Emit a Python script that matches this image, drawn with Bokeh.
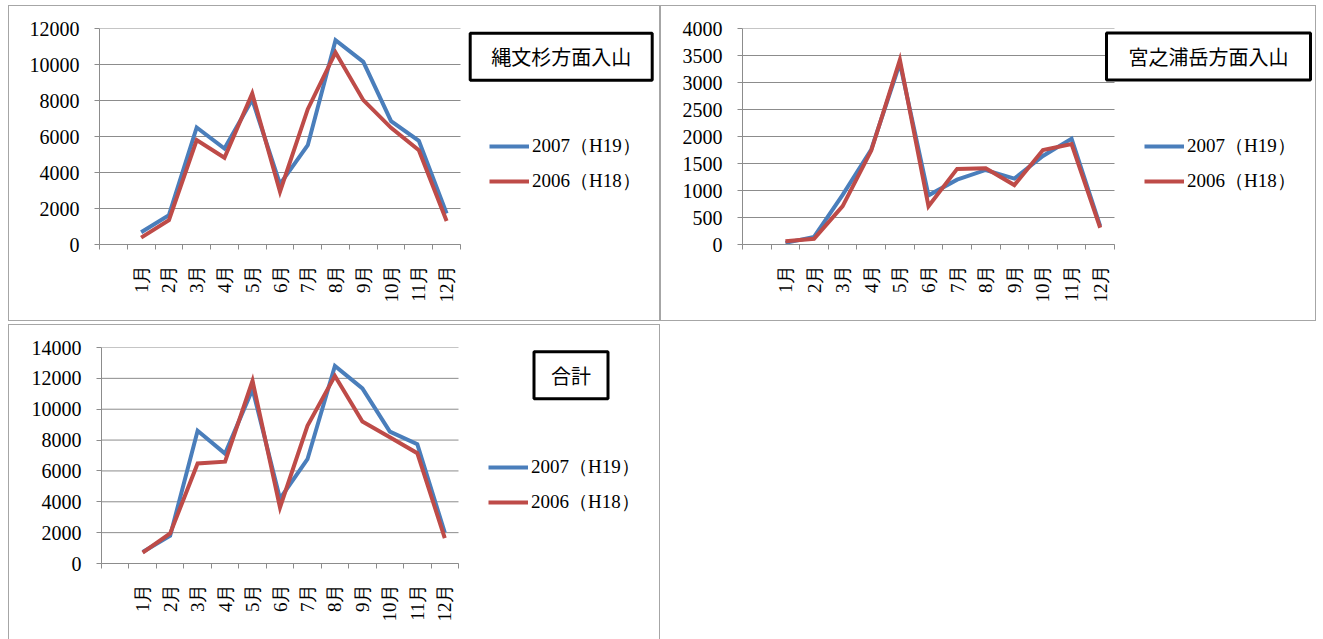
from bokeh.plotting import figure
from bokeh.models import Range1d, FixedTicker, Legend, LegendItem, Label
from bokeh.layouts import column, row
from bokeh.embed import file_html
from bokeh.resources import INLINE

# ---------------- data ----------------
categories = ["", "1月", "2月", "3月", "4月", "5月", "6月", "7月", "8月", "9月", "10月", "11月", "12月"]
months = categories[1:]
series_names = ["2007（H19）", "2006（H18）"]

jomon_title = "縄文杉方面入山"
jomon_2007 = [680, 1630, 6500, 5330, 8050, 3350, 5520, 11350, 10150, 6850, 5760, 1720]
jomon_2006 = [380, 1350, 5800, 4820, 8390, 2930, 7520, 10670, 8020, 6480, 5240, 1300]

miya_title = "宮之浦岳方面入山"
miya_2007 = [30, 140, 920, 1760, 3360, 910, 1200, 1380, 1220, 1640, 1960, 340]
miya_2006 = [60, 105, 710, 1740, 3420, 710, 1400, 1410, 1100, 1750, 1860, 310]

total_title = "合計"
total_2007 = [750, 1800, 8600, 7120, 11300, 4200, 6760, 12800, 11350, 8550, 7740, 2000]
total_2006 = [710, 1950, 6480, 6600, 11840, 3630, 8920, 12160, 9200, 8180, 7150, 1650]

BLUE = "#4a7ebb"
RED = "#be4b48"
GRID = "#8c8c8c"
SERIF = "Liberation Serif"
SANS = "Noto Sans CJK JP"


def make_panel(title, s_a, s_b, ymax, ystep, width, height,
               left, chart_w, top, bottom, title_off, title_pad, legend_off):
    n = len(categories)
    right = 2
    fw = width - left - right          # frame width (whole right side)
    fh = height - top - bottom
    x_end = n * fw / chart_w           # category area occupies chart_w pixels
    p = figure(width=width, height=height, output_backend="svg",
               toolbar_location=None,
               x_range=Range1d(0, x_end), y_range=Range1d(0, ymax),
               min_border_left=left, min_border_right=right,
               min_border_top=top, min_border_bottom=bottom,
               styles={"border": "1px solid #a6a6a6", "box-sizing": "border-box"})
    p.outline_line_color = None
    p.background_fill_color = "white"
    p.border_fill_color = "white"

    yticks = list(range(0, ymax + 1, ystep))
    # horizontal gridlines restricted to the category area
    p.segment(x0=[0] * len(yticks), x1=[n] * len(yticks), y0=yticks, y1=yticks,
              line_color=GRID, line_width=1)

    xs = [categories.index(m) + 0.5 for m in months]
    r_a = p.line(xs, s_a, line_color=BLUE, line_width=4, line_join="miter")
    r_b = p.line(xs, s_b, line_color=RED, line_width=4, line_join="miter")

    # x axis: labels at category centres, ticks at category boundaries
    xa = p.xaxis[0]
    xa.bounds = (0, n)
    xa.ticker = FixedTicker(ticks=xs, minor_ticks=list(range(n + 1)))
    xa.major_label_overrides = {x: m for x, m in zip(xs, months)}
    xa.major_label_orientation = 3.14159265 / 2
    xa.major_tick_in = 0
    xa.major_tick_out = 0
    xa.minor_tick_in = 0
    xa.minor_tick_out = 5
    xa.minor_tick_line_color = GRID
    xa.axis_line_color = GRID
    xa.major_label_text_font = SERIF
    xa.major_label_text_font_size = "19px"
    xa.major_label_text_color = "black"
    xa.major_label_standoff = 15

    ya = p.yaxis[0]
    ya.ticker = FixedTicker(ticks=yticks)
    ya.major_tick_in = 0
    ya.major_tick_out = 5
    ya.minor_tick_line_color = None
    ya.major_tick_line_color = GRID
    ya.axis_line_color = GRID
    ya.major_label_text_font = SERIF
    ya.major_label_text_font_size = "20px"
    ya.major_label_text_color = "black"
    ya.major_label_standoff = 15
    ya.formatter.use_scientific = False

    p.xgrid.grid_line_color = None
    p.ygrid.grid_line_color = None

    # title box
    tx = title_off[0] / chart_w * n
    ty = title_off[1] / fh * ymax
    p.add_layout(Label(x=tx, y=ty, text=title, text_font=SANS,
                       text_font_size="20px", text_align="center",
                       text_baseline="middle", text_color="black",
                       border_line_color="black", border_line_width=3,
                       background_fill_color="white", padding=title_pad))

    legend = Legend(items=[LegendItem(label=series_names[0], renderers=[r_a]),
                           LegendItem(label=series_names[1], renderers=[r_b])],
                    location=legend_off, orientation="vertical")
    legend.padding = 0
    legend.margin = 0
    legend.spacing = 9
    legend.glyph_width = 40
    legend.glyph_height = 20
    legend.label_height = 20
    legend.label_standoff = 3
    legend.border_line_color = None
    legend.background_fill_alpha = 0
    legend.label_text_font = SERIF
    legend.label_text_font_size = "19px"
    legend.label_text_color = "black"
    p.add_layout(legend)
    return p


p1 = make_panel(jomon_title, jomon_2007, jomon_2006, 12000, 2000,
                652, 316, 90, 361, 22, 78,
                (461.7, 187.8), (21, 9), (390, 50))
p2 = make_panel(miya_title, miya_2007, miya_2006, 4000, 500,
                656, 316, 81, 372, 22, 78,
                (466, 188), (22, 9), (402, 50))
p3 = make_panel(total_title, total_2007, total_2006, 14000, 2000,
                652, 318, 92, 357, 22, 80,
                (469.5, 188.2), (17, 9), (387, 48))

layout = column(row(p1, p2, spacing=0), p3, spacing=3, margin=(5, 0, 0, 8))

with open("out.html", "w") as f:
    f.write(file_html(layout, INLINE))
